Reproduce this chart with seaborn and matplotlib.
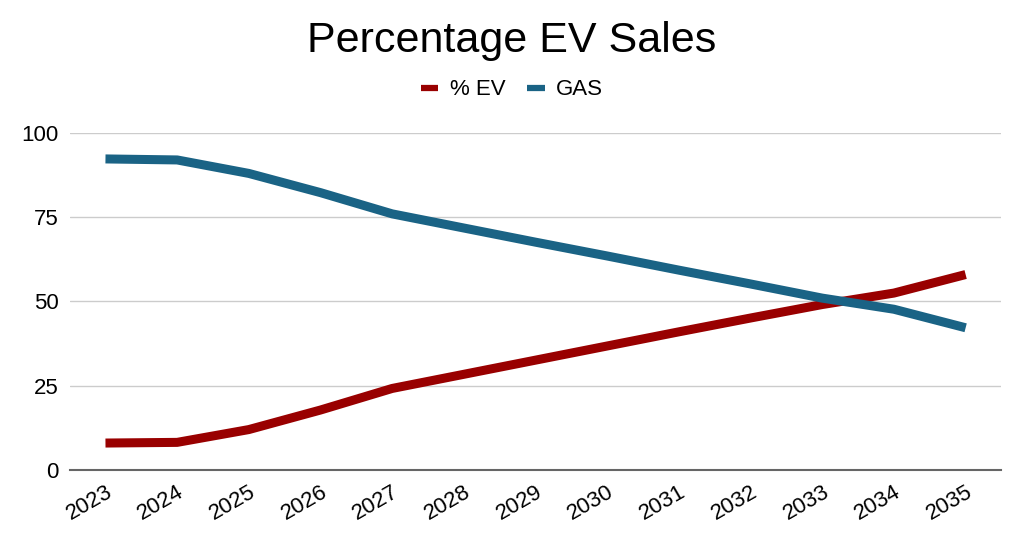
import pandas as pd
import seaborn as sns
import matplotlib.pyplot as plt
from matplotlib.lines import Line2D

years = ["2023", "2024", "2025", "2026", "2027", "2028", "2029",
         "2030", "2031", "2032", "2033", "2034", "2035"]
ev = [8, 8.2, 12, 17.8, 24.2, 28.4, 32.6, 36.8, 41, 45.1, 49.1, 52.5, 58]
gas = [92.3, 92, 88, 82.3, 76, 71.8, 67.6, 63.5, 59.3, 55.2, 51, 47.7, 42.2]

df = pd.DataFrame({"year": years * 2,
                   "value": ev + gas,
                   "series": ["% EV"] * len(years) + ["GAS"] * len(years)})

sns.set_style("white")
plt.rcParams['font.family'] = ['Liberation Sans', 'DejaVu Sans']
plt.rcParams['text.color'] = 'black'
plt.rcParams['xtick.color'] = 'black'
plt.rcParams['ytick.color'] = 'black'

fig = plt.figure(figsize=(10.24, 5.45), dpi=100)
ax = fig.add_axes([0.068, 0.1376, 0.91, 0.6184])
sns.lineplot(data=df, x="year", y="value", hue="series",
             palette={"% EV": "#990000", "GAS": "#1a6385"},
             linewidth=6.5, ax=ax, sort=False, legend=False,
             solid_capstyle="butt")

ax.set_xlim(-0.5, len(years) - 0.5)
ax.set_ylim(0, 100)
ax.set_yticks([0, 25, 50, 75, 100])
ax.grid(axis="y", color="#cccccc", linewidth=1)
ax.set_axisbelow(True)
for s in ["top", "right", "left"]:
    ax.spines[s].set_visible(False)
ax.spines["bottom"].set_color("#666666")
ax.spines["bottom"].set_linewidth(1.5)
ax.tick_params(axis="both", length=0, labelsize=16, pad=8)
plt.setp(ax.get_xticklabels(), rotation=30, ha="right", rotation_mode="anchor")
ax.set_xlabel("")
ax.set_ylabel("")

fig.text(0.5, 0.925, "Percentage EV Sales", ha="center", va="center", fontsize=31)
handles = [Line2D([], [], color="#990000", linewidth=4.5, solid_capstyle="butt"),
           Line2D([], [], color="#1a6385", linewidth=4.5, solid_capstyle="butt")]
fig.legend(handles, ["% EV", "GAS"], loc="center", bbox_to_anchor=(0.5, 0.835),
           ncol=2, frameon=False, fontsize=16, handlelength=0.8,
           columnspacing=1.0, handletextpad=0.5)

fig.savefig("out.png", dpi=100)
